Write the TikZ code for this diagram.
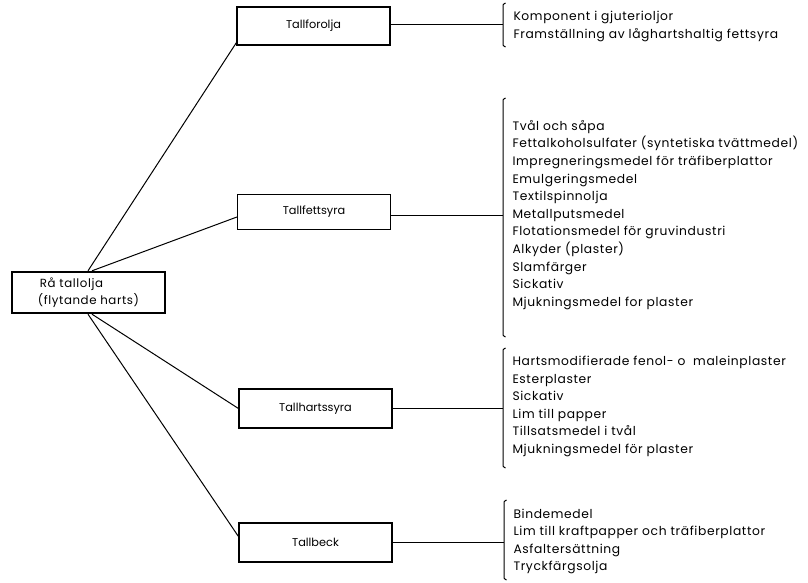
\documentclass[tikz,border=0pt]{standalone}
\usepackage{fontspec}
\setmainfont{Poppins}
\newfontfamily\listfont[LetterSpace=5]{Poppins}
\usetikzlibrary{calc}
\begin{document}
\begin{tikzpicture}[x=1pt,y=-1pt,
  line width=1pt,
  prodbox/.style={draw,line width=1.1pt,minimum width=153pt,minimum height=38pt,inner sep=0pt,
    font=\fontsize{11.3}{13}\selectfont},
  rootbox/.style={draw,line width=2.4pt,minimum width=153pt,minimum height=41pt,inner sep=0pt,
    align=left,font=\listfont\fontsize{11.8}{17}\selectfont},
  uselist/.style={anchor=west,inner sep=0pt,align=left,font=\listfont\fontsize{12.3}{17.6}\selectfont},
  bracketline/.style={line width=1pt}
]
\useasboundingbox (0,0) rectangle (808,583);

% raw material
\node[rootbox] (root) at (88.5,292.5) {\hspace*{2pt}Rå tallolja\\(flytande harts)};

% fractions
\node[prodbox] (b1) at (313.5,26) {Tallforolja};
\node[prodbox,minimum height=35pt] (b2) at (314,212) {Tallfettsyra};
\node[prodbox,minimum height=39pt] (b3) at (315.5,408.5) {Tallhartssyra};
\node[prodbox,minimum height=39pt] (b4) at (315.5,542.5) {Tallbeck};

% links from the raw material to the fractions
\coordinate (r1) at ($(root.north)+(-0.5,0)$);
\coordinate (r2) at ($(root.north)+(3.5,0)$);
\coordinate (r3) at ($(root.south)+(-0.5,0)$);
\coordinate (r4) at ($(root.south)+(3.5,0)$);
\draw (r1) -- ($(b1.south west)+(0,-3)$);
\draw (r2) -- ($(b2.west)+(0,5)$);
\draw (r4) -- ($(b3.west)+(0,0)$);
\draw (r3) -- ($(b4.west)+(0,-6)$);

% bracket joints
\coordinate (k1) at (503,25);
\coordinate (k2) at (503,215);
\coordinate (k3) at (503,408);
\coordinate (k4) at (504,542);

\draw (b1.east |- k1) -- (k1);
\draw (b2.east |- k2) -- (k2);
\draw (b3.east |- k3) -- (k3);
\draw (b4.east |- k4) -- (k4);

% brackets
\foreach \k/\t/\b in {k1/3/47, k2/98/337, k3/348/468, k4/500/580}{
  \draw[bracketline] ($(\k |- 0,\t)+(2.5,0)$) .. controls ($(\k |- 0,\t)+(0,1)$) .. ($(\k |- 0,\t)+(0,5)$)
     -- ($(\k |- 0,\b)+(0,-5)$) .. controls ($(\k |- 0,\b)+(0,-1)$) .. ($(\k |- 0,\b)+(2.5,0)$);
}

% uses
\node[uselist] (u1) at (513,26.5) {Komponent i gjuterioljor\\Framställning av låghartshaltig fettsyra};
\node[uselist] (u2) at (512,215) {Tvål och såpa\\Fettalkoholsulfater (syntetiska tvättmedel)\\Impregneringsmedel för träfiberplattor\\Emulgeringsmedel\\Textilspinnolja\\Metallputsmedel\\Flotationsmedel för gruvindustri\\Alkyder (plaster)\\Slamfärger\\Sickativ\\Mjukningsmedel for plaster};
\node[uselist] (u3) at (512,406.5) {Hartsmodifierade fenol- o\ \ maleinplaster\\Esterplaster\\Sickativ\\Lim till papper\\Tillsatsmedel i tvål\\Mjukningsmedel för plaster};
\node[uselist] (u4) at (513,541.5) {Bindemedel\\Lim till kraftpapper och träfiberplattor\\Asfaltersättning\\Tryckfärgsolja};
\end{tikzpicture}
\end{document}
